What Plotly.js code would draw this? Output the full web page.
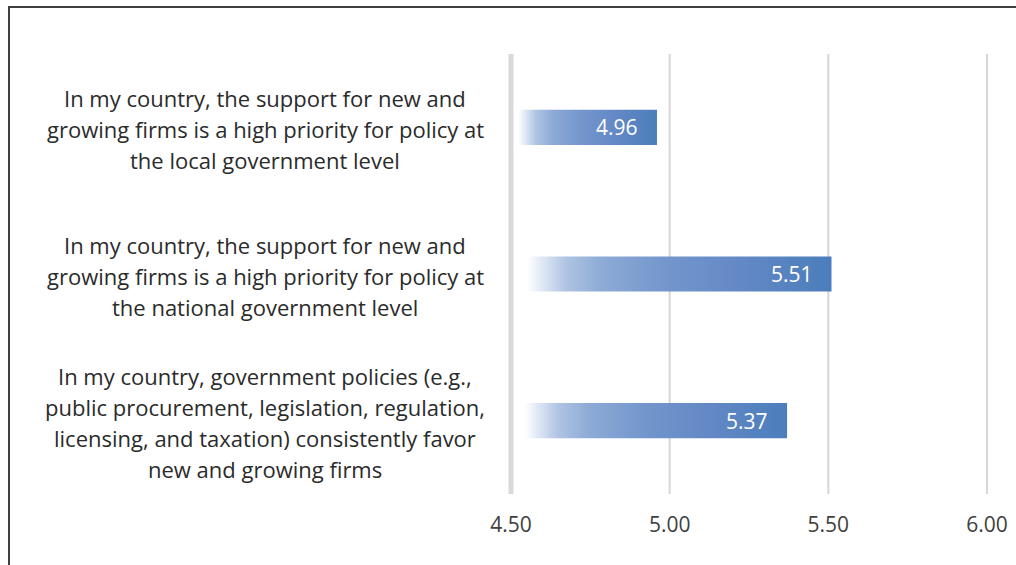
<!DOCTYPE html>
<html>
<head>
<meta charset="utf-8">
<script src="https://cdn.plot.ly/plotly-3.0.1.min.js"></script>
<style>
  html, body { margin: 0; padding: 0; overflow: hidden; background: #fff; }
  #chart { width: 1016px; height: 565px; position: absolute; left: 0; top: 0; }
  #frame { position: absolute; left: 8px; top: 6px; width: 2000px; height: 2000px;
           border-left: 2px solid #3f3f3f; border-top: 2px solid #3f3f3f; pointer-events: none; }
</style>
</head>
<body>
<div id="chart"></div>
<div id="frame"></div>
<script>
// ---- data ----
const categories = [
  "Local government level",
  "National government level",
  "Government policies favor new firms"
];
const labelLines = [
  ["In my country, the support for new and", "growing firms is a high priority for policy at", "the local government level"],
  ["In my country, the support for new and", "growing firms is a high priority for policy at", "the national government level"],
  ["In my country, government policies (e.g.,", "public procurement, legislation, regulation,", "licensing, and taxation) consistently favor", "new and growing firms"]
];
const values = [4.96, 5.51, 5.37];
const xRange = [4.5, 6.0];
const tickVals = [4.5, 5.0, 5.5, 6.0];
const tickText = ["4.50", "5.00", "5.50", "6.00"];

// ---- style ----
const FONT = "Open Sans, sans-serif";
const LABEL_SIZE = 22;
const LINE_GAP = 31;

const toPaper = v => (v - xRange[0]) / (xRange[1] - xRange[0]);

const annotations = [];
labelLines.forEach((lines, ci) => {
  const n = lines.length;
  lines.forEach((ln, i) => {
    annotations.push({
      xref: "paper", yref: "y", x: -0.5168, y: categories[ci],
      xanchor: "center", yanchor: "middle",
      text: ln, showarrow: false,
      yshift: ((n - 1) / 2 - i) * LINE_GAP - 2,
      font: { family: FONT, size: LABEL_SIZE, color: "#2b2b2b" }
    });
  });
});
values.forEach((v, i) => {
  annotations.push({
    xref: "x", yref: "y", x: v, y: categories[i],
    xanchor: "right", yanchor: "middle", xshift: -17,
    text: v.toFixed(2), showarrow: false,
    font: { family: FONT, size: 21, color: "#ffffff" }
  });
});

const trace = {
  type: "bar", orientation: "h",
  y: categories,
  base: xRange[0],
  x: values.map(v => v - xRange[0]),
  marker: { color: "#4a7ebb", line: { width: 0 } },
  hoverinfo: "skip"
};

// grid lines drawn as paper-referenced shapes so the edge lines are not clipped
const shapes = tickVals.map(t => ({
  type: "line", xref: "paper", yref: "paper",
  x0: toPaper(t), x1: toPaper(t), y0: 0, y1: 1,
  line: { color: t === xRange[0] ? "#d9d9d9" : "#d6d6d6", width: t === xRange[0] ? 5 : 2 },
  layer: t === xRange[0] ? "above" : "below"
}));

const layout = {
  width: 1016, height: 565,
  margin: { l: 511, r: 29, t: 54, b: 71, pad: 0 },
  paper_bgcolor: "#ffffff", plot_bgcolor: "rgba(0,0,0,0)",
  showlegend: false,
  bargap: 0.76,
  xaxis: {
    range: xRange, tickvals: tickVals, ticktext: tickText,
    showgrid: false,
    zeroline: false, showline: false, ticks: "",
    ticklabelstandoff: 16,
    tickfont: { family: FONT, size: 21, color: "#404040" }
  },
  yaxis: {
    type: "category", autorange: "reversed",
    showticklabels: false, showgrid: false, zeroline: false, showline: false, ticks: ""
  },
  shapes: shapes,
  annotations: annotations
};

Plotly.newPlot("chart", [trace], layout, { staticPlot: true, displayModeBar: false }).then(gd => {
  const svg = gd.querySelector("svg.main-svg");
  const NS = "http://www.w3.org/2000/svg";
  const defs = document.createElementNS(NS, "defs");
  const grad = document.createElementNS(NS, "linearGradient");
  grad.setAttribute("id", "barGrad");
  grad.setAttribute("x1", "0"); grad.setAttribute("y1", "0");
  grad.setAttribute("x2", "1"); grad.setAttribute("y2", "0");
  const stops = [
    [0.00, "#ffffff"], [0.05, "#ffffff"], [0.17, "#b0c4e3"], [0.28, "#8eabd6"],
    [0.48, "#7396cc"], [0.70, "#6589c6"], [1.00, "#4a7ebb"]
  ];
  stops.forEach(([o, c]) => {
    const s = document.createElementNS(NS, "stop");
    s.setAttribute("offset", o);
    s.setAttribute("stop-color", c);
    grad.appendChild(s);
  });
  defs.appendChild(grad);
  svg.insertBefore(defs, svg.firstChild);
  gd.querySelectorAll(".barlayer .point path").forEach(p => {
    p.style.fill = "url(#barGrad)";
  });
});
</script>
</body>
</html>
